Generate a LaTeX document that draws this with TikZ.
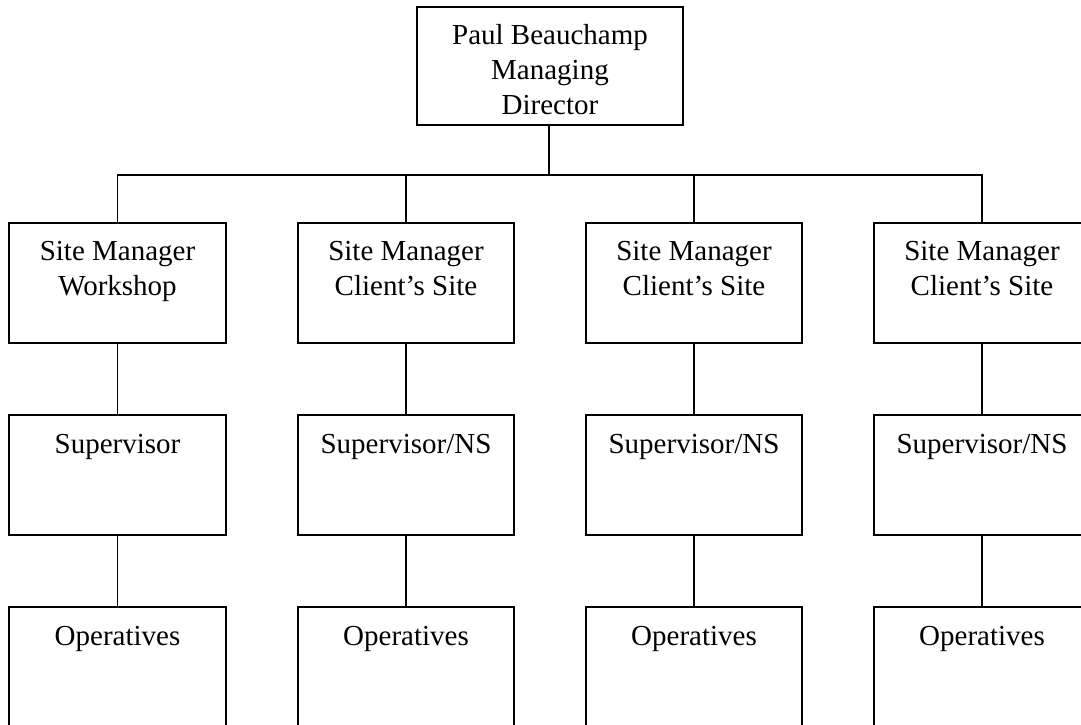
\documentclass[tikz,border=0pt]{standalone}
\usepackage{fontspec}
\setmainfont{Liberation Serif}
\usetikzlibrary{calc}
\begin{document}
\begin{tikzpicture}[x=1pt,y=-1pt,
  box/.style={draw, line width=1.9pt, rectangle, inner sep=0pt, minimum width=216pt, minimum height=120pt},
  txt/.style={font=\fontsize{29}{34.7}\selectfont, align=center, inner sep=0pt, anchor=base},
  conn/.style={line width=1.9pt}]
\useasboundingbox (0,0) rectangle (1081,725);
\clip (0,0) rectangle (1081,725);
% top
\node[box, minimum width=266pt, minimum height=118pt] (top) at (550,66) {};
\node[txt] (ttop) at ($(top.north)+(0,108.2)$) {Paul Beauchamp\\Managing\\Director};
% row 1
\node[box, minimum width=217pt] (m1) at (117.5,283) {};
\node[box] (m2) at (406,283) {};
\node[box] (m3) at (694,283) {};
\node[box] (m4) at (982,283) {};
% row 2
\node[box, minimum width=217pt] (s1) at (117.5,475) {};
\node[box] (s2) at (406,475) {};
\node[box] (s3) at (694,475) {};
\node[box] (s4) at (982,475) {};
% row 3
\node[box, minimum width=217pt] (o1) at (117.5,667) {};
\node[box] (o2) at (406,667) {};
\node[box] (o3) at (694,667) {};
\node[box] (o4) at (982,667) {};
% texts
\node[txt] (tm1) at ($(m1.north)+(0,73.6)$) {Site Manager\\Workshop};
\node[txt] (tm2) at ($(m2.north)+(0,73.6)$) {Site Manager\\Client’s Site};
\node[txt] (tm3) at ($(m3.north)+(0,73.6)$) {Site Manager\\Client’s Site};
\node[txt] (tm4) at ($(m4.north)+(0,73.6)$) {Site Manager\\Client’s Site};
\node[txt] (ts1) at ($(s1.north)+(0,39)$) {Supervisor};
\node[txt] (ts2) at ($(s2.north)+(0,39)$) {Supervisor/NS};
\node[txt] (ts3) at ($(s3.north)+(0,39)$) {Supervisor/NS};
\node[txt] (ts4) at ($(s4.north)+(0,39)$) {Supervisor/NS};
\node[txt] (to1) at ($(o1.north)+(0,39)$) {Operatives};
\node[txt] (to2) at ($(o2.north)+(0,39)$) {Operatives};
\node[txt] (to3) at ($(o3.north)+(0,39)$) {Operatives};
\node[txt] (to4) at ($(o4.north)+(0,39)$) {Operatives};
% connectors
\coordinate (bar) at (549,175);
\draw[conn] (top.south -| bar) -- (bar);
\draw[conn] (m1.north) -- (m1.north |- bar) -- (m4.north |- bar) -- (m4.north);
\draw[conn] (m2.north) -- (m2.north |- bar);
\draw[conn] (m3.north) -- (m3.north |- bar);
\foreach \i in {1,2,3,4}{
  \draw[conn] (m\i.south) -- (s\i.north);
  \draw[conn] (s\i.south) -- (o\i.north);
}
\end{tikzpicture}
\end{document}
